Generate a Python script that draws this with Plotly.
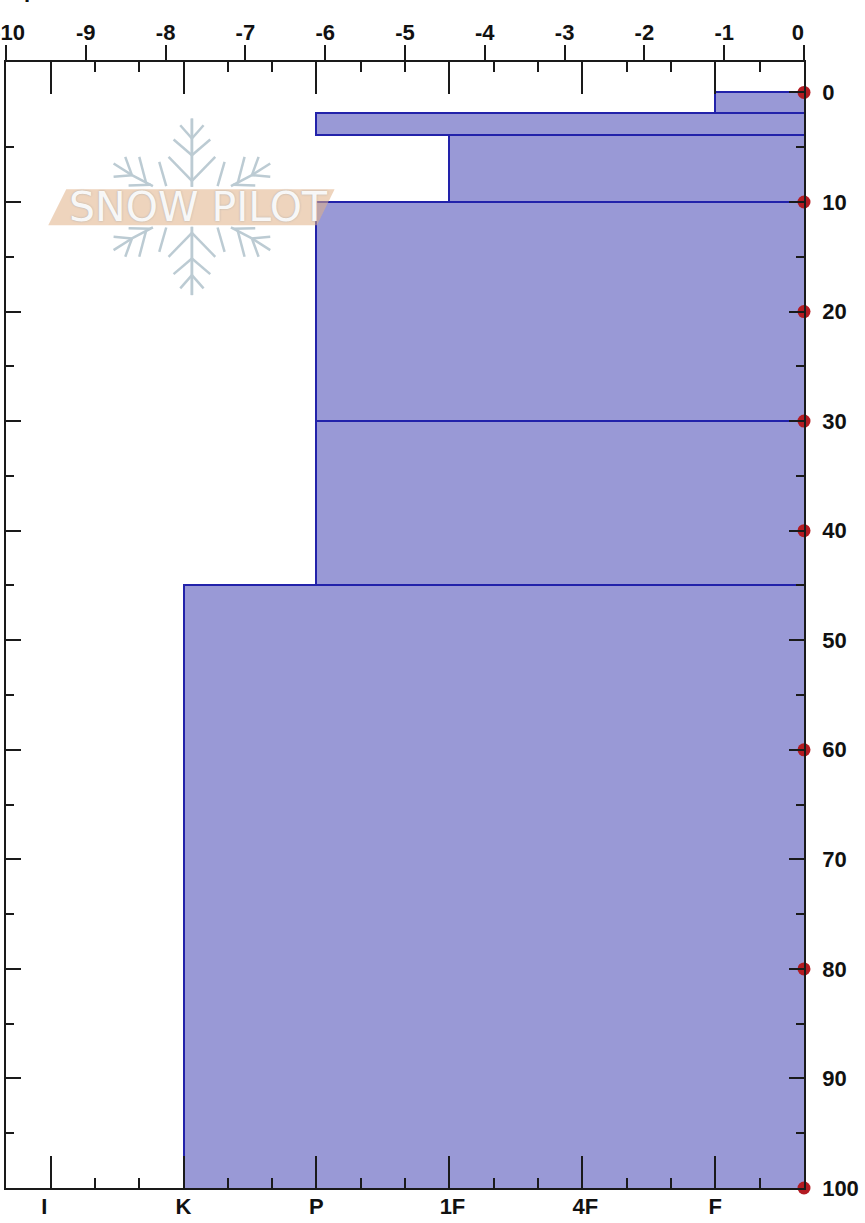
import plotly.graph_objects as go

# ---------- data ----------
hardness_labels = ["I\u00a0\u00a0", "K", "P", "\u00a01F", "\u00a04F", "F"]
hardness_ranks = [1, 2, 3, 4, 5, 6]
layer_top = [0, 1.9, 3.9, 10, 30, 45]
layer_bottom = [1.9, 3.9, 10, 30, 45, 100.2]
layer_hardness = [6, 3, 4, 3, 3, 2]
temp_depth = [0, 10, 20, 30, 40, 60, 80, 100]
temp_value = [0, 0, 0, 0, 0, 0, 0, 0]
temp_ticks = [-10, -9, -8, -7, -6, -5, -4, -3, -2, -1, 0]
temp_labels = ["\u00a0-10", "-9", "-8", "-7", "-6", "-5", "-4", "-3", "-2", "-1", "0\u00a0\u00a0"]
depth_labels = [0, 10, 20, 30, 40, 50, 60, 70, 80, 90, 100]

# ---------- style ----------
W, H = 865, 1223
L, R, T, B = 5.75, 803.75, 61.75, 1188.5
HARD_MIN, HARD_MAX = 0.665, 6.667
DEPTH_TOP = -2.78
FILL, EDGE, INK, RED = "#9999d6", "#2222aa", "#1a1a1a", "#b31b22"
FONT = dict(family="Liberation Sans, Arial, sans-serif", size=22, color="#111", weight=700)


def xp(px):
    return (px - L) / (R - L)


def yp(py):
    return 1 - (py - T) / (B - T)


fig = go.Figure()
fig.add_trace(go.Bar(
    orientation="h",
    y=[(a + b) / 2 for a, b in zip(layer_top, layer_bottom)],
    width=[b - a for a, b in zip(layer_top, layer_bottom)],
    base=layer_hardness,
    x=[HARD_MAX + 0.02 - h for h in layer_hardness],
    marker=dict(color=FILL, line=dict(color=EDGE, width=2)),
    xaxis="x", yaxis="y", showlegend=False, hoverinfo="skip",
))
fig.add_trace(go.Scatter(
    x=temp_value, y=temp_depth, mode="markers",
    marker=dict(color=RED, size=13, symbol="circle"),
    cliponaxis=False, xaxis="x2", yaxis="y2", showlegend=False,
))

minor_hard = [0.667] + [r + d for r in hardness_ranks for d in (1 / 3, 2 / 3)][:-1]
minor_depth = [d + 5 for d in depth_labels[:-1]]
axis_common = dict(showgrid=False, zeroline=False, showline=True, linecolor=INK, linewidth=1.5,
                   tickcolor=INK, automargin=False)

fig.update_layout(
    width=W, height=H, autosize=False,
    margin=dict(l=L, r=W - R, t=T, b=H - B, pad=0),
    paper_bgcolor="white", plot_bgcolor="white", bargap=0,
    xaxis=dict(
        **axis_common, range=[HARD_MIN, HARD_MAX], side="bottom", anchor="y", mirror="ticks",
        tickmode="array", tickvals=hardness_ranks, ticktext=hardness_labels,
        ticks="inside", ticklen=32, tickwidth=1.5, tickfont=FONT, ticklabelstandoff=-2,
        minor=dict(tickmode="array", tickvals=minor_hard, ticks="inside", ticklen=10,
                   tickwidth=1.5, tickcolor=INK),
    ),
    xaxis2=dict(
        **axis_common, range=[-10, 0], side="top", anchor="y", overlaying="x",
        tickmode="array", tickvals=temp_ticks, ticktext=temp_labels,
        ticks="outside", ticklen=15, tickwidth=1.5, tickfont=FONT,
        ticklabelstandoff=-4, ticklabeloverflow="allow",
    ),
    yaxis=dict(
        **axis_common, range=[100, DEPTH_TOP], side="left", anchor="x",
        tickmode="array", tickvals=depth_labels[1:], showticklabels=False,
        ticks="inside", ticklen=15, tickwidth=1.5,
        minor=dict(tickmode="array", tickvals=minor_depth, ticks="inside", ticklen=8,
                   tickwidth=1.5, tickcolor=INK),
    ),
    yaxis2=dict(
        **axis_common, range=[100, DEPTH_TOP], side="right", anchor="x", overlaying="y",
        tickmode="array", tickvals=depth_labels, ticktext=[str(d) for d in depth_labels],
        ticks="inside", ticklen=15, tickwidth=1.5, tickfont=FONT, ticklabelstandoff=12,
        ticklabeloverflow="allow",
        minor=dict(tickmode="array", tickvals=minor_depth, ticks="inside", ticklen=8,
                   tickwidth=1.5, tickcolor=INK),
    ),
)


# ---------- watermark logo (pixel geometry, decoration only) ----------
def zx(z):
    return xp(40 + z / 3)


def zy(z):
    return yp(110 + z / 3)


arm_lines = [
    ((455, 25), (455, 230)),
    ((420, 45), (455, 85)), ((400, 88), (455, 135)), ((385, 140), (455, 212)),
    ((357, 155), (378, 228)),
    ((220, 160), (275, 195)), ((255, 140), (275, 195)), ((220, 200), (275, 195)),
    ((275, 195), (338, 228)), ((297, 140), (318, 220)), ((265, 226), (332, 224)),
]
shapes = []
for (x0, y0), (x1, y1) in arm_lines:
    for mx in (False, True):
        for my in (False, True):
            a0 = 910 - x0 if mx else x0
            a1 = 910 - x1 if mx else x1
            b0 = 580 - y0 if my else y0
            b1 = 580 - y1 if my else y1
            shapes.append(dict(type="line", xref="paper", yref="paper",
                               x0=zx(a0), y0=zy(b0), x1=zx(a1), y1=zy(b1),
                               line=dict(color="#bccbd3", width=2.5)))
band = [(78, 237), (883, 237), (830, 345), (24, 345)]
path = "M " + " L ".join(f"{zx(a):.5f},{zy(b):.5f}" for a, b in band) + " Z"
shapes.append(dict(type="path", path=path, xref="paper", yref="paper",
                   fillcolor="rgba(224,176,135,0.55)", line=dict(width=0)))
fig.update_layout(shapes=shapes)

annotations = [
    dict(text="SNOW PILOT", xref="paper", yref="paper", x=xp(198), y=yp(207),
         xanchor="center", yanchor="middle", showarrow=False,
         font=dict(family="DejaVu Sans", size=41, color="rgba(255,255,255,0.92)",
                   shadow="0 0 2px #a8a8a8")),
    dict(text="Depth", xref="paper", yref="paper", x=xp(-6), y=yp(-11),
         xanchor="left", yanchor="middle", showarrow=False, font=FONT),
    dict(text="Notes", xref="paper", yref="paper", x=xp(4), y=yp(1231),
         xanchor="left", yanchor="middle", showarrow=False, font=FONT),
]
fig.update_layout(annotations=annotations)

fig.write_html("out.html", config={"displayModeBar": False},
               post_script="document.body.style.margin='0';document.documentElement.style.overflow='hidden';")
